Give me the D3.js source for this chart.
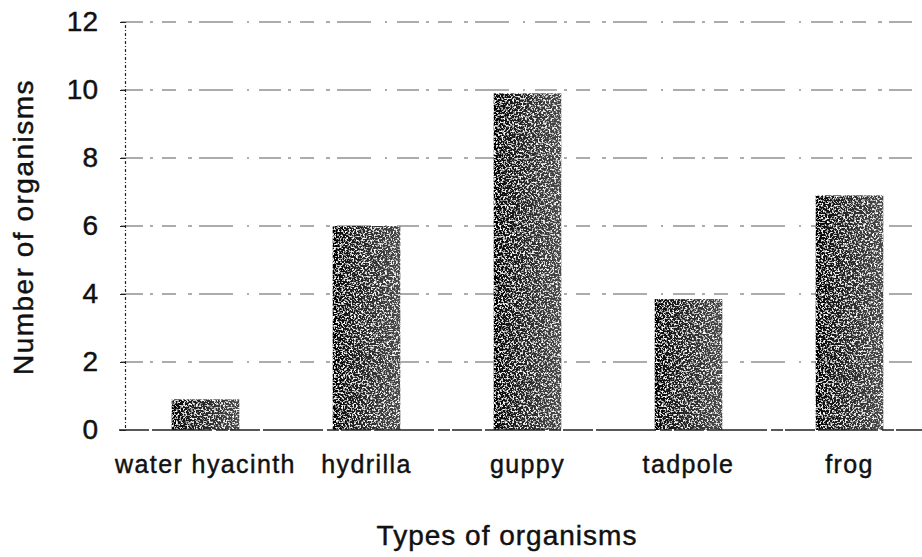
<!DOCTYPE html>
<html>
<head>
<meta charset="utf-8">
<script src="https://cdn.jsdelivr.net/npm/d3@7"></script>
<style>
    html, body { margin: 0; padding: 0; background: #fff; }
    svg { display: block; }
    text { font-family: "Liberation Sans", Arial, sans-serif; fill: #111; stroke: #111; stroke-width: 0.45px; }
</style>
</head>
<body>
<svg id="chart"></svg>
<script>
// Data
const categories = ['water hyacinth', 'hydrilla', 'guppy', 'tadpole', 'frog'];
const counts = [0.9, 6, 9.9, 3.85, 6.9];
const yTicks = [0, 2, 4, 6, 8, 10, 12];

// Layout
const W = 922, H = 557;
const plot = { left: 125, right: 930, top: 22, bottom: 430 };

const svg = d3.select('#chart').attr('width', W).attr('height', H);

const x = d3.scaleBand()
    .domain(categories)
    .range([plot.left, plot.right])
    .paddingInner(0.58)
    .paddingOuter(0.29);

const y = d3.scaleLinear()
    .domain([0, 12])
    .range([plot.bottom, plot.top]);

// Bar texture: dark on the left edge, speckled lighter to the right
const defs = svg.append('defs');
const grad = defs.append('linearGradient').attr('id', 'barGrad')
    .attr('x1', '0%').attr('x2', '100%').attr('y1', '0%').attr('y2', '0%');
grad.append('stop').attr('offset', '0%').attr('stop-color', '#000');
grad.append('stop').attr('offset', '20%').attr('stop-color', '#151515');
grad.append('stop').attr('offset', '100%').attr('stop-color', '#4a4a4a');

const grain = defs.append('filter').attr('id', 'grain')
    .attr('x', 0).attr('y', 0).attr('width', 1).attr('height', 1);
grain.append('feTurbulence')
    .attr('type', 'fractalNoise')
    .attr('baseFrequency', 0.55)
    .attr('numOctaves', 2)
    .attr('seed', 7)
    .attr('result', 'noise');
grain.append('feColorMatrix')
    .attr('in', 'noise')
    .attr('type', 'matrix')
    .attr('values', '0 0 0 0 1  0 0 0 0 1  0 0 0 0 1  5 0 0 0 -2.5')
    .attr('result', 'speck');
grain.append('feComposite')
    .attr('in', 'speck')
    .attr('in2', 'SourceGraphic')
    .attr('operator', 'atop');

// Gridlines (broken dash-dot, like a photocopy)
svg.append('g')
    .selectAll('line')
    .data(yTicks.filter(d => d > 0))
    .join('line')
    .attr('x1', plot.left - 4)
    .attr('x2', 912)
    .attr('y1', d => y(d))
    .attr('y2', d => y(d))
    .attr('stroke', '#222')
    .attr('stroke-width', 1.2)
    .attr('stroke-dasharray', '22,7,3,9,14,12,4,7,34,14,2,10')
    .attr('opacity', 0.75);

// Y axis: dotted vertical line, labels only
const yAxis = svg.append('g')
    .attr('transform', `translate(${plot.left},0)`)
    .call(d3.axisLeft(y).tickValues(yTicks).tickSize(5).tickPadding(22));
yAxis.select('.domain')
    .attr('stroke', '#222')
    .attr('stroke-width', 1.2)
    .attr('stroke-dasharray', '3,2,1,2');
yAxis.selectAll('.tick line').attr('stroke', '#222');
yAxis.selectAll('.tick text')
    .style('font-size', '28px')
    .style('font-family', '"Liberation Sans", Arial, sans-serif')
    .attr('fill', '#111');

// Bars
svg.append('g')
    .selectAll('rect')
    .data(categories.map((c, i) => ({ name: c, value: counts[i] })))
    .join('rect')
    .attr('x', d => x(d.name))
    .attr('y', d => y(d.value))
    .attr('width', x.bandwidth())
    .attr('height', d => y(0) - y(d.value))
    .attr('fill', 'url(#barGrad)')
    .attr('filter', 'url(#grain)');

// Baseline
svg.append('line')
    .attr('x1', plot.left - 6)
    .attr('x2', W)
    .attr('y1', y(0))
    .attr('y2', y(0))
    .attr('stroke', '#222')
    .attr('stroke-width', 1.4)
    .attr('stroke-dasharray', '30,3,60,4,12,2');

// Category labels
svg.append('g')
    .selectAll('text')
    .data(categories)
    .join('text')
    .attr('x', d => x(d) + x.bandwidth() / 2)
    .attr('y', 473)
    .attr('text-anchor', 'middle')
    .style('font-size', '25px')
    .style('letter-spacing', '1.4px')
    .text(d => d);

// Axis titles
svg.append('text')
    .attr('x', 507)
    .attr('y', 545)
    .attr('text-anchor', 'middle')
    .style('font-size', '28px')
    .style('letter-spacing', '1px')
    .text('Types of organisms');

svg.append('text')
    .attr('transform', 'translate(33,227) rotate(-90)')
    .attr('text-anchor', 'middle')
    .style('font-size', '28px')
    .style('letter-spacing', '1.5px')
    .text('Number of organisms');
</script>
</body>
</html>
